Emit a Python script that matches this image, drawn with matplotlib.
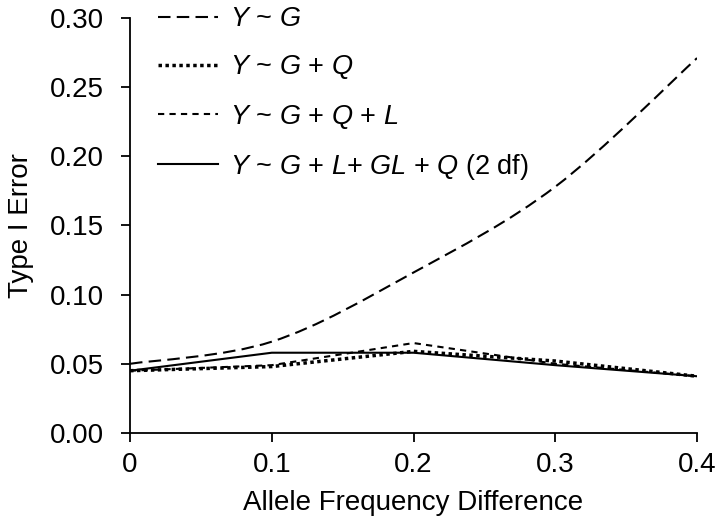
import numpy as np
import matplotlib
matplotlib.use('Agg')
import matplotlib.pyplot as plt
from matplotlib.path import Path
from matplotlib.patches import PathPatch
from matplotlib.lines import Line2D

plt.rcParams['font.family'] = ['Liberation Sans', 'DejaVu Sans']
plt.rcParams['mathtext.fontset'] = 'custom'
plt.rcParams['mathtext.rm'] = 'Liberation Sans'
plt.rcParams['mathtext.it'] = 'Liberation Sans:italic'

# 数据
freq_diff = [0.0, 0.1, 0.2, 0.3, 0.4]
err_g = [0.050, 0.066, 0.116, 0.178, 0.271]
err_gq = [0.045, 0.048, 0.059, 0.052, 0.041]
err_gql = [0.045, 0.049, 0.065, 0.050, 0.041]
err_full = [0.045, 0.058, 0.058, 0.049, 0.041]

labels = [r'$\it{Y}$ ~ $\it{G}$',
          r'$\it{Y}$ ~ $\it{G}$ + $\it{Q}$',
          r'$\it{Y}$ ~ $\it{G}$ + $\it{Q}$ + $\it{L}$',
          r'$\it{Y}$ ~ $\it{G}$ + $\it{L}$+ $\it{GL}$ + $\it{Q}$ (2 df)']

ls_g = (0, (6, 3))
ls_gq = (0, (1, 1))
ls_gql = (0, (3, 2.5))


# 平滑曲线（类似Excel的平滑线）
def smooth_path(xs, ys):
    pts = np.column_stack([xs, ys])
    ext = np.vstack([pts[0], pts, pts[-1]])
    verts = [pts[0]]
    codes = [Path.MOVETO]
    for i in range(len(pts) - 1):
        p0, p1, p2, p3 = ext[i], ext[i + 1], ext[i + 2], ext[i + 3]
        verts += [p1 + (p2 - p0) / 6, p2 - (p3 - p1) / 6, p2]
        codes += [Path.CURVE4] * 3
    return Path(verts, codes)


fig = plt.figure(figsize=(7.2, 5.28), dpi=100)
ax = fig.add_axes([0.1806, 0.180, 0.7875, 0.786])

ax.add_patch(PathPatch(smooth_path(freq_diff, err_g), fill=False,
                       edgecolor='black', linewidth=1.5, linestyle=ls_g))
ax.plot(freq_diff, err_gq, color='black', linewidth=2.5, linestyle=ls_gq)
ax.plot(freq_diff, err_gql, color='black', linewidth=1.5, linestyle=ls_gql)
ax.plot(freq_diff, err_full, color='black', linewidth=1.5, linestyle='-')

handles = [Line2D([], [], color='black', linewidth=1.5, linestyle=ls_g),
           Line2D([], [], color='black', linewidth=2.5, linestyle=ls_gq),
           Line2D([], [], color='black', linewidth=1.5, linestyle=ls_gql),
           Line2D([], [], color='black', linewidth=1.5, linestyle='-')]
ax.legend(handles, labels, loc='upper left', bbox_to_anchor=(0.05, 1.028),
          frameon=False, fontsize=19.5, handlelength=2.2, handletextpad=0.45,
          labelspacing=0.78, borderpad=0, borderaxespad=0)

ax.set_xlim(0, 0.4)
ax.set_ylim(0, 0.30)
ax.set_xticks([0, 0.1, 0.2, 0.3, 0.4])
ax.set_xticklabels(['0', '0.1', '0.2', '0.3', '0.4'])
ax.set_yticks(np.arange(0, 0.31, 0.05))
ax.set_yticklabels(['%.2f' % v for v in np.arange(0, 0.31, 0.05)])
ax.tick_params(direction='out', length=6.5, width=1.3, labelsize=20)
ax.tick_params(axis='y', pad=12)
ax.tick_params(axis='x', pad=7.5)

for s in ['top', 'right']:
    ax.spines[s].set_visible(False)
for s in ['left', 'bottom']:
    ax.spines[s].set_linewidth(1.3)

ax.set_xlabel('Allele Frequency Difference', fontsize=20, labelpad=8)
ax.set_ylabel('Type I Error', fontsize=20, labelpad=12)

fig.savefig('out.png', dpi=100)
